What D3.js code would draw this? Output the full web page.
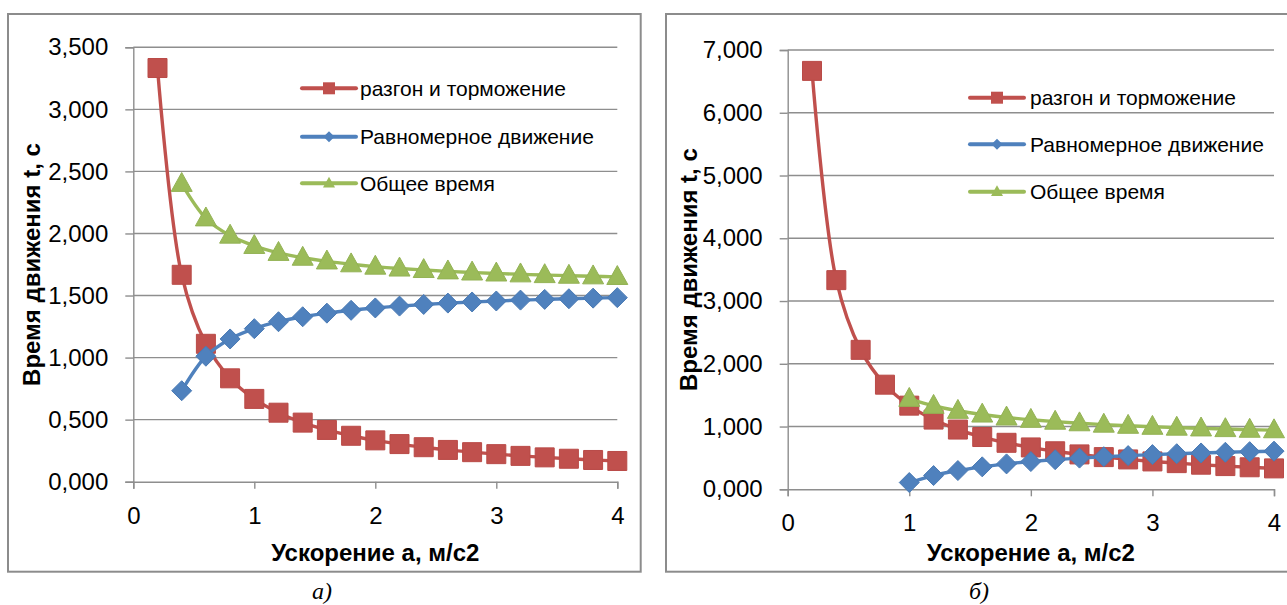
<!DOCTYPE html>
<html><head><meta charset="utf-8">
<script src="https://cdn.jsdelivr.net/npm/d3@7"></script>
<style>
html,body{margin:0;padding:0;background:#fff;}
svg{display:block;}
</style></head>
<body>
<svg id="c" width="1287" height="605"></svg>
<script>
// ---------- data ----------
const accel = [0.2,0.4,0.6,0.8,1.0,1.2,1.4,1.6,1.8,2.0,2.2,2.4,2.6,2.8,3.0,3.2,3.4,3.6,3.8,4.0];
const accelFrom04 = [0.4,0.6,0.8,1.0,1.2,1.4,1.6,1.8,2.0,2.2,2.4,2.6,2.8,3.0,3.2,3.4,3.6,3.8,4.0];
const accelFrom10 = [1.0,1.2,1.4,1.6,1.8,2.0,2.2,2.4,2.6,2.8,3.0,3.2,3.4,3.6,3.8,4.0];

// chart а)
const aBrake   = [3.333,1.667,1.111,0.833,0.667,0.556,0.476,0.417,0.370,0.333,0.303,0.278,0.256,0.238,0.222,0.208,0.196,0.185,0.175,0.167];
const aUniform = [0.733,1.011,1.150,1.233,1.289,1.329,1.358,1.381,1.400,1.415,1.428,1.439,1.448,1.456,1.463,1.469,1.474,1.479,1.483];
const aTotal   = [2.400,2.122,1.983,1.900,1.844,1.805,1.775,1.752,1.733,1.718,1.706,1.695,1.686,1.678,1.671,1.665,1.660,1.655,1.650];

// chart б)
const bBrake   = [6.667,3.333,2.222,1.667,1.333,1.111,0.952,0.833,0.741,0.667,0.606,0.556,0.513,0.476,0.444,0.417,0.392,0.370,0.351,0.333];
const bUniform = [0.108,0.219,0.299,0.358,0.405,0.442,0.472,0.497,0.519,0.537,0.553,0.567,0.579,0.590,0.600,0.608];
const bTotal   = [1.442,1.331,1.251,1.192,1.145,1.108,1.078,1.053,1.031,1.013,0.997,0.983,0.971,0.960,0.950,0.942];

const seriesNames = ["разгон и торможение","Равномерное движение","Общее время"];
const xTicks = [0,1,2,3,4];
const aYTicks = [0,0.5,1,1.5,2,2.5,3,3.5];
const bYTicks = [0,1,2,3,4,5,6,7];
const xTitle = "Ускорение а, м/с2";
const yTitle = "Время движения t, с";
const captions = ["а)","б)"];

// ---------- style ----------
const colors = ["#C0504D","#4F81BD","#9BBB59"];
const markerStroke = ["#B94A47","#4A7AB4","#93B254"];
const gridCol = "#8E8E8E";
const FONT = "'Liberation Sans', Arial, sans-serif";

const svg = d3.select("#c");
const fmt = v => d3.format(".3f")(v).replace(".", ",");

function markerPath(kind, s){
  if(kind===0){ const h=s/2; return `M${-h},${-h}H${h}V${h}H${-h}Z`; }
  if(kind===1){ const h=s/2; return `M0,${-h}L${h},0L0,${h}L${-h},0Z`; }
  const w=s/2, hh=s*0.9; return `M0,${-hh*0.6}L${w},${hh*0.4}L${-w},${hh*0.4}Z`;
}

function drawChart(cfg){
  const g = svg.append("g");
  // frame
  g.append("rect").attr("x",cfg.frame[0]).attr("y",cfg.frame[1])
    .attr("width",cfg.frame[2]).attr("height",cfg.frame[3])
    .attr("fill","#fff").attr("stroke","#8C8C8C").attr("stroke-width",2);

  const x = d3.scaleLinear().domain([0,4]).range([cfg.px0,cfg.px1]);
  const y = d3.scaleLinear().domain([0,cfg.yMax]).range([cfg.py0,cfg.py1]);

  // gridlines
  g.append("g").selectAll("line").data(cfg.yTicks.filter(d=>d>0)).join("line")
    .attr("x1",cfg.px0).attr("x2",cfg.px1).attr("y1",d=>y(d)).attr("y2",d=>y(d))
    .attr("stroke",gridCol).attr("stroke-width",1.4);

  // y axis
  const ya = g.append("g").attr("transform",`translate(${cfg.px0},0)`)
    .call(d3.axisLeft(y).tickValues(cfg.yTicks).tickFormat(fmt).tickSize(8).tickPadding(17));
  // x axis
  const xa = g.append("g").attr("transform",`translate(0,${cfg.py0})`)
    .call(d3.axisBottom(x).tickValues(xTicks).tickFormat(d3.format("d")).tickSize(7).tickPadding(18));
  [ya,xa].forEach(a=>{
    a.select(".domain").attr("stroke",gridCol).attr("stroke-width",1.4);
    a.selectAll(".tick line").attr("stroke",gridCol).attr("stroke-width",1.4);
    a.selectAll("text").attr("font-family",FONT).attr("font-size",24).attr("fill","#000");
  });

  // titles
  g.append("text").attr("x",(cfg.px0+cfg.px1)/2).attr("y",561)
    .attr("text-anchor","middle").attr("font-family",FONT).attr("font-weight","bold")
    .attr("font-size",24).text(xTitle);
  g.append("text").attr("transform",`translate(${cfg.yTitleX},${(cfg.py0+cfg.py1)/2}) rotate(-90)`)
    .attr("text-anchor","middle").attr("dy","0.35em").attr("font-family",FONT).attr("font-weight","bold")
    .attr("font-size",24).text(yTitle);
  g.append("text").attr("x",cfg.capX).attr("y",599)
    .attr("text-anchor","middle").attr("font-family","'Liberation Serif', 'Times New Roman', serif")
    .attr("font-style","italic").attr("font-size",24).text(cfg.caption);

  // series
  const line = d3.line().x(d=>x(d[0])).y(d=>y(d[1])).curve(d3.curveCatmullRom.alpha(0.5));
  cfg.series.forEach((s,i)=>{
    const pts = s.xs.map((xv,j)=>[xv,s.ys[j]]);
    g.append("path").attr("d",line(pts)).attr("fill","none")
      .attr("stroke",colors[i]).attr("stroke-width",3.4).attr("stroke-linejoin","round");
    g.append("g").selectAll("path").data(pts).join("path")
      .attr("transform",d=>`translate(${x(d[0])},${y(d[1])})`)
      .attr("d",markerPath(i,[19,20,21][i]))
      .attr("fill",colors[i]).attr("stroke",markerStroke[i]).attr("stroke-width",1);
  });

  // legend
  seriesNames.forEach((name,i)=>{
    const ry = cfg.legRows[i];
    g.append("line").attr("x1",cfg.legX0).attr("x2",cfg.legX1).attr("y1",ry).attr("y2",ry)
      .attr("stroke",colors[i]).attr("stroke-width",4).attr("stroke-linecap","round");
    g.append("path").attr("transform",`translate(${(cfg.legX0+cfg.legX1)/2},${ry})`)
      .attr("d",markerPath(i,[12,11,12][i])).attr("fill",colors[i]);
    g.append("text").attr("x",cfg.legTextX).attr("y",ry).attr("dy","0.35em")
      .attr("font-family",FONT).attr("font-size",21).text(name);
  });
}

drawChart({
  frame:[8,14,632.7,557.7], px0:133.3, px1:617.3, py0:481.7, py1:47.3, yMax:3.5, yTicks:aYTicks,
  yTitleX:32, capX:322, caption:captions[0],
  legX0:302, legX1:356, legTextX:360, legRows:[88.3,136.7,183.3],
  series:[{xs:accel,ys:aBrake},{xs:accelFrom04,ys:aUniform},{xs:accelFrom04,ys:aTotal}]
});
drawChart({
  frame:[666,14,640,557.7], px0:787.7, px1:1274, py0:489.3, py1:50, yMax:7, yTicks:bYTicks,
  yTitleX:688.5, capX:979, caption:captions[1],
  legX0:970, legX1:1024, legTextX:1030, legRows:[97.7,144.3,191.7],
  series:[{xs:accel,ys:bBrake},{xs:accelFrom10,ys:bUniform},{xs:accelFrom10,ys:bTotal}]
});
</script>
</body></html>
